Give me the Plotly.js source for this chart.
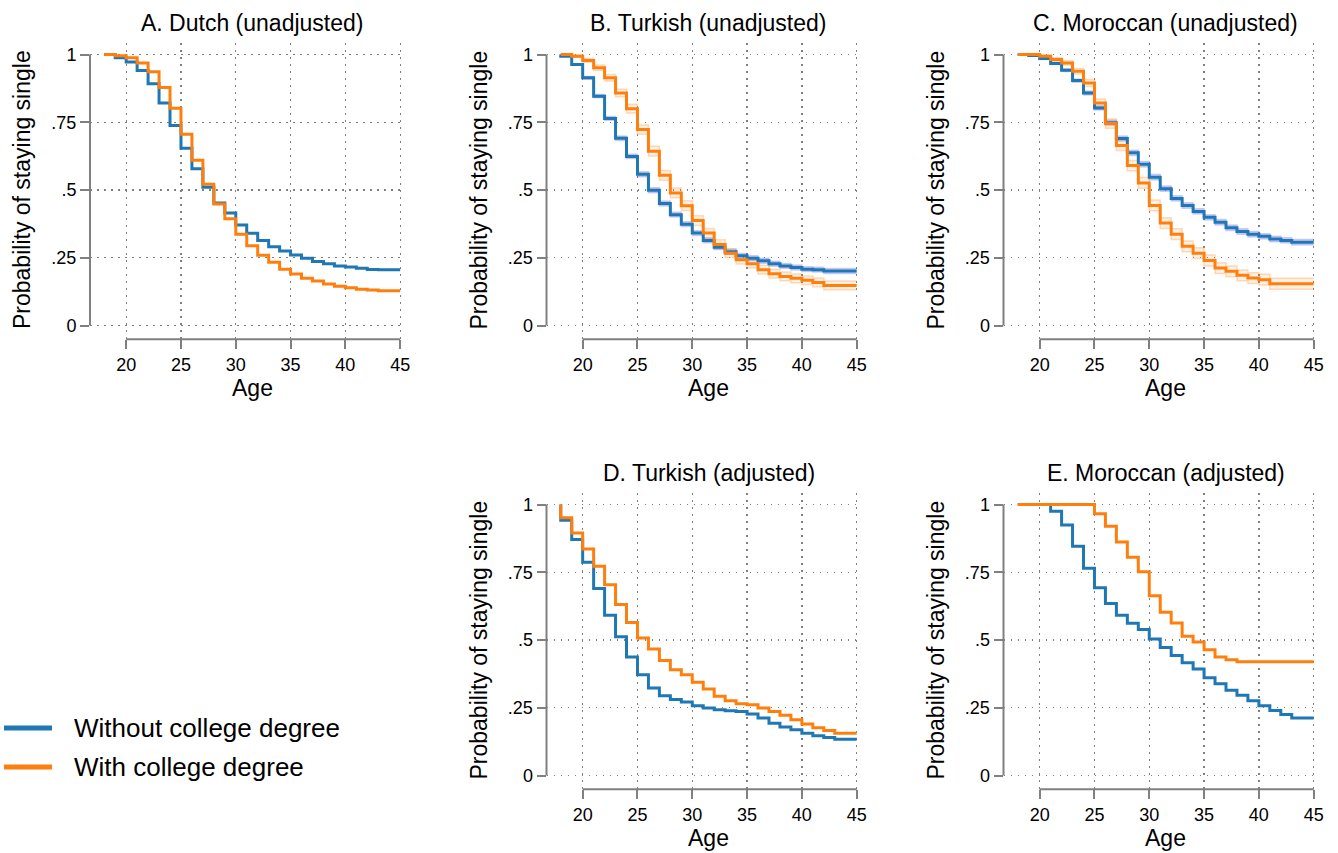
<!DOCTYPE html>
<html><head><meta charset="utf-8">
<script src="https://cdn.plot.ly/plotly-3.0.1.min.js"></script>
<style>html,body{margin:0;padding:0;background:#fff}#chart{width:1338px;height:853px}</style>
</head><body><div id="chart"></div>
<script>
// Ages (step positions)
const ages = [18,19,20,21,22,23,24,25,26,27,28,29,30,31,32,33,34,35,36,37,38,39,40,41,42,43,44,45];

// A. Dutch (unadjusted)
const dutchWithout = [1.0,0.988,0.972,0.941,0.892,0.821,0.738,0.654,0.578,0.510,0.452,0.415,0.371,0.340,0.314,0.291,0.275,0.260,0.248,0.236,0.228,0.220,0.216,0.211,0.207,0.206,0.206,0.206];
const dutchWith    = [1.0,0.995,0.988,0.969,0.936,0.878,0.802,0.706,0.610,0.521,0.448,0.394,0.337,0.294,0.259,0.233,0.208,0.190,0.174,0.164,0.153,0.145,0.139,0.134,0.131,0.128,0.128,0.128];

// B. Turkish (unadjusted)
const turkWithout = [0.994,0.963,0.914,0.846,0.764,0.691,0.624,0.558,0.499,0.450,0.409,0.374,0.341,0.314,0.289,0.272,0.257,0.248,0.239,0.228,0.220,0.214,0.208,0.206,0.201,0.201,0.201,0.201];
const turkWith    = [1.0,0.994,0.978,0.951,0.914,0.858,0.800,0.723,0.643,0.554,0.489,0.442,0.387,0.341,0.299,0.267,0.243,0.228,0.206,0.191,0.181,0.174,0.167,0.159,0.148,0.148,0.148,0.148];
const turkWithoutCI = [0,0.003,0.005,0.006,0.007,0.008,0.008,0.009,0.009,0.009,0.009,0.009,0.009,0.009,0.009,0.009,0.009,0.009,0.009,0.009,0.009,0.009,0.009,0.009,0.009,0.009,0.009,0.009];
const turkWithCI    = [0,0.004,0.007,0.010,0.012,0.014,0.016,0.017,0.018,0.018,0.018,0.018,0.018,0.017,0.017,0.016,0.016,0.016,0.016,0.016,0.016,0.016,0.016,0.016,0.016,0.016,0.016,0.016];

// C. Moroccan (unadjusted)
const morWithout = [1.0,0.996,0.985,0.967,0.942,0.904,0.858,0.803,0.748,0.690,0.637,0.595,0.547,0.505,0.469,0.443,0.421,0.399,0.381,0.361,0.347,0.337,0.329,0.319,0.314,0.307,0.307,0.307];
const morWith    = [1.0,1.0,0.994,0.982,0.969,0.938,0.895,0.821,0.745,0.664,0.590,0.526,0.443,0.378,0.337,0.292,0.267,0.240,0.212,0.200,0.185,0.175,0.169,0.154,0.154,0.154,0.154,0.154];
const morWithoutCI = [0,0.002,0.003,0.004,0.005,0.006,0.007,0.008,0.009,0.009,0.010,0.010,0.010,0.010,0.010,0.010,0.010,0.010,0.010,0.010,0.010,0.010,0.010,0.010,0.010,0.010,0.010,0.010];
const morWithCI    = [0,0.002,0.004,0.006,0.008,0.010,0.013,0.015,0.017,0.018,0.019,0.020,0.020,0.020,0.020,0.020,0.020,0.020,0.020,0.020,0.020,0.020,0.020,0.020,0.020,0.020,0.020,0.020];

// D. Turkish (adjusted)
const turkAdjWithout = [0.942,0.871,0.787,0.690,0.591,0.512,0.437,0.372,0.323,0.294,0.280,0.271,0.257,0.249,0.243,0.239,0.236,0.227,0.212,0.193,0.179,0.169,0.156,0.147,0.140,0.134,0.134,0.134];
const turkAdjWith    = [0.951,0.895,0.836,0.772,0.704,0.631,0.565,0.507,0.467,0.424,0.390,0.372,0.344,0.319,0.292,0.276,0.265,0.261,0.249,0.236,0.222,0.206,0.190,0.176,0.166,0.156,0.156,0.156];

// E. Moroccan (adjusted)
const morAdjWithout = [1.0,1.0,1.0,0.975,0.924,0.846,0.765,0.693,0.635,0.591,0.562,0.539,0.504,0.472,0.443,0.416,0.393,0.361,0.339,0.315,0.296,0.276,0.257,0.240,0.225,0.212,0.212,0.212];
const morAdjWith    = [1.0,1.0,1.0,1.0,1.0,1.0,1.0,0.966,0.920,0.862,0.805,0.752,0.663,0.602,0.563,0.514,0.493,0.464,0.437,0.427,0.420,0.420,0.420,0.420,0.420,0.420,0.420,0.420];

const startValue = 1.0;
const yTickVals = [0,0.25,0.5,0.75,1];
const yTickText = ['0','.25','.5','.75','1'];
const xTickVals = [20,25,30,35,40,45];
const seriesNames = ['Without college degree','With college degree'];
const titles = ['A. Dutch (unadjusted)','B. Turkish (unadjusted)','C. Moroccan (unadjusted)','D. Turkish (adjusted)','E. Moroccan (adjusted)'];

const W = 1338, H = 853;
const BLUE = '#1f77b4', ORANGE = '#ff7f0e';
const FONT = 'Helvetica, "Liberation Sans", Arial, sans-serif';
const GRAY = '#808080';

// panel geometry in pixels: axis-line x, top of plot
const panels = [
  {title: titles[0], left: 90,    top: 43,  data: [[dutchWithout,null],[dutchWith,null]]},
  {title: titles[1], left: 546.5, top: 43,  data: [[turkWithout,turkWithoutCI],[turkWith,turkWithCI]]},
  {title: titles[2], left: 1003.5,top: 43,  data: [[morWithout,morWithoutCI],[morWith,morWithCI]]},
  {title: titles[3], left: 546.5, top: 493, data: [[turkAdjWithout,null],[turkAdjWith,null]]},
  {title: titles[4], left: 1003.5,top: 493, data: [[morAdjWithout,null],[morAdjWith,null]]}
];

const pxPerYear = 10.96, xMin = 16.7, xMax = 45.2;
const y1Off = 11.5, pxPerUnit = 271, plotH = 296.3; // top->1 offset, scale, domain height
const traces = [], shapes = [], annotations = [];
const layout = {
  width: W, height: H, margin: {l:0,r:0,t:0,b:0}, showlegend: false,
  paper_bgcolor: '#fff', plot_bgcolor: '#fff',
  font: {family: FONT, color: '#000'},
  shapes: shapes, annotations: annotations
};

const xs = [ages[0]].concat(ages);
const colors = [BLUE, ORANGE];
const bandFill = ['rgba(70,80,230,0.22)','rgba(255,140,40,0.13)'];
const bandLine = ['rgba(70,80,230,0.25)','rgba(255,140,40,0.30)'];

panels.forEach((p, i) => {
  const k = i + 1;
  const xa = 'x' + (k === 1 ? '' : k), ya = 'y' + (k === 1 ? '' : k);
  const xaKey = 'xaxis' + (k === 1 ? '' : k), yaKey = 'yaxis' + (k === 1 ? '' : k);
  const right = p.left + (xMax - xMin) * pxPerYear;
  const bottom = p.top + plotH;
  const yTop = 1 + y1Off / pxPerUnit;
  const yBot = yTop - plotH / pxPerUnit;
  layout[xaKey] = {
    domain: [p.left / W, right / W], range: [xMin, xMax], anchor: ya,
    tickvals: xTickVals, ticks: 'outside', ticklen: 9, tickwidth: 2, tickcolor: GRAY,
    showline: false, zeroline: false, showgrid: true,
    gridcolor: GRAY, gridwidth: 1.3, griddash: '1.5px,5.5px',
    tickfont: {size: 18, family: FONT, color: '#000'}, fixedrange: true
  };
  layout[yaKey] = {
    domain: [1 - bottom / H, 1 - p.top / H], range: [yBot, yTop], anchor: xa,
    tickvals: yTickVals, ticktext: yTickText, ticks: 'outside', ticklen: 9, tickwidth: 2, tickcolor: GRAY,
    showline: false, zeroline: false, showgrid: true,
    gridcolor: GRAY, gridwidth: 1.3, griddash: '1.5px,5.5px',
    tickfont: {size: 18, family: FONT, color: '#000'}, fixedrange: true
  };
  // axis lines spanning only the tick range
  shapes.push({type:'line', xref: xa, yref: ya + ' domain', x0: 20, x1: 45, y0: 0, y1: 0, line:{color:GRAY, width:2}});
  shapes.push({type:'line', xref: xa + ' domain', yref: ya, x0: 0, x1: 0, y0: 0, y1: 1, line:{color:GRAY, width:2}});

  // confidence bands
  p.data.forEach((d, s) => {
    const vals = d[0], ci = d[1];
    if (!ci) return;
    const lo = [startValue].concat(vals.map((v, j) => v - ci[j]));
    const hi = [startValue].concat(vals.map((v, j) => Math.min(1, v + ci[j])));
    traces.push({x: xs, y: lo, xaxis: xa, yaxis: ya, type:'scatter', mode:'lines',
      line:{shape:'hv', color: bandLine[s], width: 1.5}, hoverinfo:'skip', showlegend:false});
    traces.push({x: xs, y: hi, xaxis: xa, yaxis: ya, type:'scatter', mode:'lines', fill:'tonexty',
      fillcolor: bandFill[s], line:{shape:'hv', color: bandLine[s], width: 1.5}, hoverinfo:'skip', showlegend:false});
  });
  // main step lines
  p.data.forEach((d, s) => {
    traces.push({x: xs, y: [startValue].concat(d[0]), xaxis: xa, yaxis: ya, type:'scatter', mode:'lines',
      name: seriesNames[s], line:{shape:'hv', color: colors[s], width: 3}, showlegend:false});
  });

  const cx = p.left + (18 - xMin) * pxPerYear + (45 - 18) * pxPerYear / 2;
  annotations.push({xref:'paper', yref:'paper', x: cx / W, y: 1 - (p.top - 20) / H, text: p.title,
    showarrow:false, xanchor:'center', yanchor:'middle', font:{size:23, family:FONT, color:'#000'}});
  annotations.push({xref:'paper', yref:'paper', x: cx / W, y: 1 - (p.top + 345) / H, text: 'Age',
    showarrow:false, xanchor:'center', yanchor:'middle', font:{size:23, family:FONT, color:'#000'}});
  annotations.push({xref:'paper', yref:'paper', x: (p.left - 68) / W, y: 1 - (p.top + 11.5 + 135.5) / H,
    text: 'Probability of staying single', textangle: -90,
    showarrow:false, xanchor:'center', yanchor:'middle', font:{size:23, family:FONT, color:'#000'}});
});

// legend (manual)
const legendY = [728, 767];
seriesNames.forEach((n, s) => {
  shapes.push({type:'line', xref:'paper', yref:'paper', x0: 4 / W, x1: 52 / W,
    y0: 1 - legendY[s] / H, y1: 1 - legendY[s] / H, line:{color: colors[s], width: 5}});
  annotations.push({xref:'paper', yref:'paper', x: 72 / W, y: 1 - legendY[s] / H, text: n,
    showarrow:false, xanchor:'left', yanchor:'middle', font:{size:26, family:FONT, color:'#000'}});
});

Plotly.newPlot('chart', traces, layout, {staticPlot: true, displayModeBar: false});
</script>
</body></html>
